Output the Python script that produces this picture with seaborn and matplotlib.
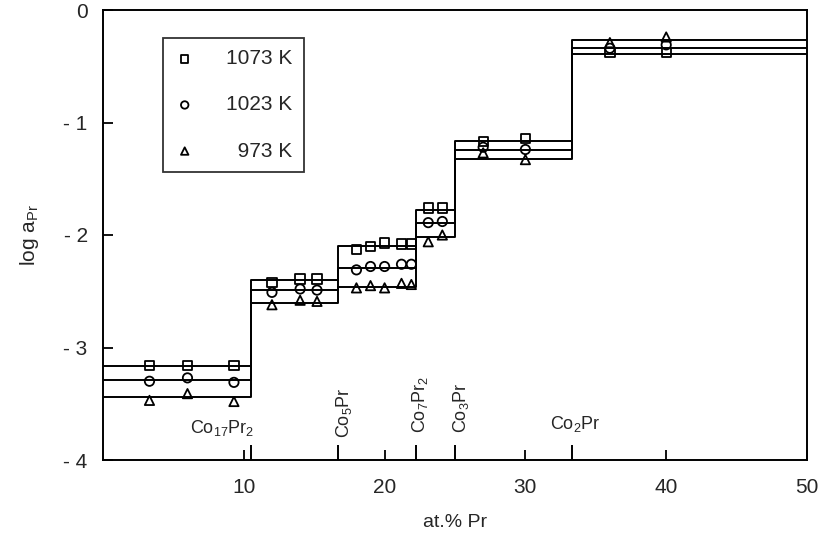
import matplotlib
matplotlib.use('Agg')
import matplotlib.pyplot as plt
import seaborn as sns
import pandas as pd

# phase boundaries (at.% Pr) and step levels of log a_Pr
boundaries = [0, 10.53, 16.67, 22.22, 25.0, 33.33, 50]
phases = ['Co$_{17}$Pr$_2$', 'Co$_5$Pr', 'Co$_7$Pr$_2$', 'Co$_3$Pr', 'Co$_2$Pr']
temps = ['1073 K', '1023 K', '\u2007973 K']
levels_1073 = [-3.16, -2.40, -2.10, -1.78, -1.16, -0.39]
levels_1023 = [-3.29, -2.49, -2.29, -1.89, -1.24, -0.34]
levels_973 = [-3.44, -2.60, -2.46, -2.02, -1.32, -0.27]

# measured points
x_pts = [3.3, 6.0, 9.3, 12.0, 14.0, 15.2, 18.0, 19.0, 20.0, 21.2, 21.9, 23.1, 24.1, 27.0, 30.0, 36.0, 40.0]
y_1073 = [-3.16, -3.16, -3.16, -2.42, -2.39, -2.39, -2.13, -2.10, -2.07, -2.08, -2.08, -1.76, -1.76, -1.17, -1.14, -0.38, -0.38]
y_1023 = [-3.30, -3.27, -3.31, -2.51, -2.48, -2.49, -2.31, -2.28, -2.28, -2.26, -2.26, -1.89, -1.88, -1.22, -1.24, -0.34, -0.31]
y_973 = [-3.47, -3.41, -3.48, -2.62, -2.58, -2.59, -2.47, -2.45, -2.47, -2.43, -2.44, -2.06, -2.00, -1.27, -1.33, -0.29, -0.24]

sns.set_style('ticks')
plt.rcParams.update({'font.family': ['Liberation Sans', 'DejaVu Sans'], 'mathtext.fontset': 'custom',
                     'mathtext.rm': 'Liberation Sans', 'mathtext.it': 'Liberation Sans'})

fig = plt.figure(figsize=(8.23, 5.36), dpi=100)
ax = fig.add_axes([103 / 823, 1 - 460 / 536, 704 / 823, 450 / 536])

markers = ['s', 'o', '^']
levels = [levels_1073, levels_1023, levels_973]
pts = [y_1073, y_1023, y_973]

for t, lv, yp, m in zip(temps, levels, pts, markers):
    steps = pd.DataFrame({'x': boundaries, 'y': lv + [lv[-1]]})
    sns.lineplot(data=steps, x='x', y='y', drawstyle='steps-post', color='black', linewidth=1.4, ax=ax)
    df = pd.DataFrame({'x': x_pts, 'y': yp})
    sns.scatterplot(data=df, x='x', y='y', marker=m, s=45, facecolor='none', edgecolor='black',
                    linewidth=1.3, ax=ax, label=t, zorder=3)

# phase boundary marks on the x axis
ax.vlines(boundaries[1:-1], -4, -3.87, color='black', linewidth=1.4)

ax.text(8.45, -3.76, phases[0], ha='center', va='baseline', fontsize=13)
ax.text(17.1, -3.80, phases[1], ha='center', va='bottom', rotation=90, fontsize=13)
ax.text(22.5, -3.76, phases[2], ha='center', va='bottom', rotation=90, fontsize=13)
ax.text(25.4, -3.76, phases[3], ha='center', va='bottom', rotation=90, fontsize=13)
ax.text(33.55, -3.72, phases[4], ha='center', va='baseline', fontsize=13)

ax.set_xlim(0, 50)
ax.set_ylim(-4, 0)
ax.set_xticks([10, 20, 30, 40, 50])
ax.set_yticks([0, -1, -2, -3, -4])
ax.set_yticklabels(['0', '- 1', '- 2', '- 3', '- 4'])
ax.tick_params(direction='in', length=7, width=1.3, labelsize=15, color='black')
ax.tick_params(axis='x', pad=13)
ax.tick_params(axis='y', pad=11)
for s in ax.spines.values():
    s.set_linewidth(1.4)
    s.set_color('black')

ax.set_xlabel('at.% Pr', fontsize=14, labelpad=12)
ax.set_ylabel('log a$_{\\rm Pr}$', fontsize=15, labelpad=16)

leg = ax.legend(loc='upper left', bbox_to_anchor=(0.085, 0.938), frameon=True, fancybox=False,
                edgecolor='black', fontsize=15, labelspacing=1.3, handletextpad=1.5,
                borderpad=0.55, handlelength=1.0, borderaxespad=0, markerscale=0.8)
leg.get_frame().set_linewidth(1.3)

fig.savefig('out.png', dpi=100)
